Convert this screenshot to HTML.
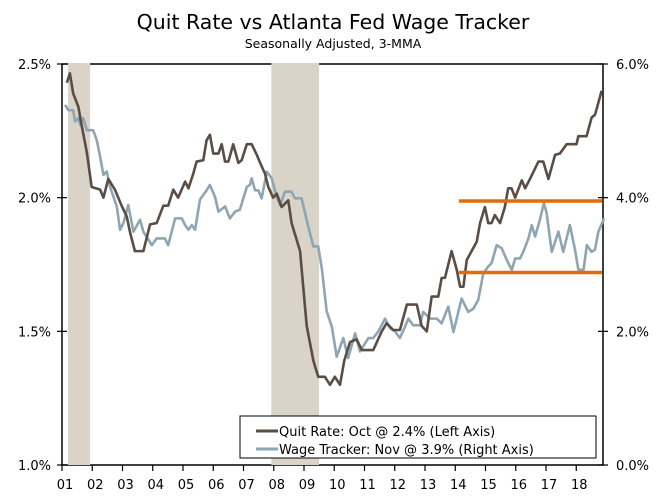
<!DOCTYPE html>
<html><head><meta charset="utf-8"><style>
html,body{margin:0;padding:0;background:#fff;}
svg{display:block;font-family:"DejaVu Sans","Liberation Sans",sans-serif;}
</style></head><body>
<svg id="chart" width="669" height="503" viewBox="0 0 669 503">
<text x="333" y="29" text-anchor="middle" font-size="20.5" fill="#000">Quit Rate vs Atlanta Fed Wage Tracker</text>
<text x="333" y="48" text-anchor="middle" font-size="12.5" fill="#000">Seasonally Adjusted, 3-MMA</text>
<g id="axes"></g>
<g id="rec"></g>
<g id="series"></g>
<g id="legend">
<rect x="240" y="416" width="356" height="42" fill="#fff" stroke="#000" stroke-width="1"/>
<line x1="256" y1="431" x2="278" y2="431" stroke="#5a4d44" stroke-width="3"/>
<text x="279" y="436" font-size="13">Quit Rate: Oct @ 2.4% (Left Axis)</text>
<line x1="256" y1="449" x2="278" y2="449" stroke="#8ea5b3" stroke-width="3"/>
<text x="279" y="454" font-size="13">Wage Tracker: Nov @ 3.9% (Right Axis)</text>
</g>
</svg>
<script>
const xTickLabels=["01","02","03","04","05","06","07","08","09","10","11","12","13","14","15","16","17","18"];
const leftTicks=[1.0,1.5,2.0,2.5];
const rightTicks=[0,2,4,6];
const recessionStarts=[2001.2,2007.92];
const recessionEnds=[2001.93,2009.5];
const quitDates=[2001.16,2001.26,2001.37,2001.54,2001.65,2001.82,2001.98,2002.26,2002.37,2002.53,2002.75,2002.97,2003.14,2003.25,2003.41,2003.69,2003.91,2004.13,2004.35,2004.51,2004.68,2004.84,2005.07,2005.18,2005.34,2005.45,2005.67,2005.78,2005.89,2006.0,2006.17,2006.28,2006.39,2006.5,2006.66,2006.83,2006.94,2007.11,2007.27,2007.44,2007.55,2007.71,2007.82,2007.98,2008.1,2008.26,2008.48,2008.59,2008.87,2009.09,2009.31,2009.47,2009.69,2009.86,2010.02,2010.19,2010.33,2010.52,2010.74,2010.91,2011.29,2011.57,2011.73,2011.95,2012.17,2012.4,2012.73,2012.89,2013.06,2013.22,2013.44,2013.55,2013.66,2013.88,2014.05,2014.16,2014.27,2014.38,2014.54,2014.71,2014.82,2014.98,2015.09,2015.2,2015.31,2015.48,2015.64,2015.75,2015.86,2015.98,2016.2,2016.31,2016.47,2016.75,2016.91,2017.08,2017.3,2017.46,2017.68,2018.01,2018.07,2018.34,2018.51,2018.62,2018.84];
const quitValues=[2.43,2.465,2.39,2.34,2.27,2.17,2.04,2.03,2.0,2.07,2.03,1.97,1.93,1.87,1.80,1.80,1.90,1.905,1.97,1.97,2.03,2.0,2.06,2.035,2.09,2.135,2.14,2.215,2.235,2.165,2.165,2.2,2.135,2.135,2.2,2.13,2.14,2.2,2.2,2.16,2.13,2.09,2.04,2.0,2.015,1.965,1.99,1.905,1.80,1.52,1.39,1.33,1.33,1.30,1.33,1.30,1.39,1.46,1.47,1.43,1.43,1.50,1.53,1.505,1.505,1.60,1.60,1.52,1.50,1.63,1.63,1.70,1.70,1.80,1.73,1.667,1.667,1.767,1.80,1.835,1.905,1.965,1.905,1.905,1.935,1.905,1.965,2.035,2.035,2.0,2.065,2.035,2.07,2.135,2.135,2.07,2.16,2.165,2.2,2.2,2.23,2.23,2.30,2.31,2.40];
const wageDates=[2001.10,2001.21,2001.37,2001.43,2001.54,2001.60,2001.70,2001.82,2002.03,2002.15,2002.26,2002.37,2002.48,2002.59,2002.81,2002.92,2003.03,2003.19,2003.36,2003.58,2003.69,2003.97,2004.13,2004.40,2004.51,2004.74,2004.96,2005.07,2005.18,2005.29,2005.40,2005.56,2005.67,2005.78,2005.89,2006.06,2006.17,2006.39,2006.55,2006.72,2006.88,2007.11,2007.21,2007.27,2007.38,2007.49,2007.60,2007.77,2007.93,2008.10,2008.21,2008.37,2008.59,2008.70,2008.92,2009.14,2009.31,2009.47,2009.59,2009.75,2009.92,2010.08,2010.30,2010.46,2010.69,2010.85,2011.13,2011.29,2011.46,2011.68,2011.84,2012.01,2012.17,2012.34,2012.45,2012.61,2012.83,2012.94,2013.17,2013.39,2013.55,2013.77,2013.94,2014.21,2014.43,2014.60,2014.76,2014.93,2015.09,2015.20,2015.37,2015.54,2015.70,2015.87,2015.98,2016.14,2016.25,2016.42,2016.53,2016.64,2016.80,2016.93,2017.02,2017.19,2017.41,2017.57,2017.79,2017.96,2018.07,2018.24,2018.35,2018.51,2018.62,2018.73,2018.92];
const wageValues=[5.39,5.31,5.31,5.14,5.19,5.09,5.19,5.01,5.01,4.86,4.61,4.34,4.39,4.16,3.87,3.52,3.62,3.89,3.49,3.67,3.49,3.29,3.39,3.39,3.29,3.69,3.69,3.59,3.52,3.59,3.52,3.97,4.04,4.11,4.19,4.01,3.79,3.87,3.69,3.79,3.82,4.16,4.19,4.29,4.11,4.11,3.99,4.39,4.29,4.01,3.89,4.09,4.09,3.99,3.99,3.57,3.27,3.27,2.94,2.3,2.07,1.62,1.90,1.60,1.97,1.70,1.90,1.90,2.0,2.19,2.05,2.0,1.90,2.07,2.19,2.09,2.09,2.29,2.19,2.19,2.12,2.37,1.99,2.49,2.29,2.34,2.47,2.87,2.97,3.02,3.29,3.24,3.07,2.92,3.09,3.09,3.19,3.39,3.59,3.42,3.67,3.92,3.77,3.19,3.49,3.19,3.59,3.22,2.92,2.92,3.29,3.19,3.22,3.49,3.69];
const rangeStart=[2014.12,2014.12];
const rangeEnd=[2018.85,2018.85];
const rangeLevels=[3.95,2.88];

const NS="http://www.w3.org/2000/svg";
const L=62,R=603,T=64,B=465;
function xs(t){return L+(t-2001)*30.25;}
function yl(v){return B-(v-1.0)/1.5*(B-T);}
function yr(v){return B-v/6*(B-T);}
function mk(tag,attrs,parent){const e=document.createElementNS(NS,tag);for(const k in attrs)e.setAttribute(k,attrs[k]);parent.appendChild(e);return e;}
const rec=document.getElementById('rec'),ax=document.getElementById('axes'),se=document.getElementById('series');
for(let i=0;i<recessionStarts.length;i++){
  const r=mk('rect',{x:xs(recessionStarts[i]),y:T-1,width:xs(recessionEnds[i])-xs(recessionStarts[i]),height:B-T+1,fill:'#d9d3c8'},rec);
  
  
}
const frame=mk('path',{d:`M${L},${B}L${L},${T}L${R},${T}L${R},${B}L${L},${B}`,fill:'none',stroke:'#000','stroke-width':1.5},ax);


xTickLabels.forEach((lab,i)=>{
  const x=xs(2001+i);
  const tk=mk('line',{x1:x,y1:B,x2:x,y2:B+6,stroke:'#000','stroke-width':1.2},ax);
  
  
  const t=mk('text',{x:x+3,y:B+24,'text-anchor':'middle','font-size':13},ax);t.textContent=lab;
  
  
});
leftTicks.forEach(v=>{
  const y=yl(v);
  const tk=mk('line',{x1:L-5,y1:y,x2:L+5,y2:y,stroke:'#000','stroke-width':1.2},ax);
  
  
  const t=mk('text',{x:L-11,y:y+5,'text-anchor':'end','font-size':13},ax);t.textContent=v.toFixed(1)+'%';
  
  
});
rightTicks.forEach(v=>{
  const y=yr(v);
  const tk=mk('line',{x1:R-5,y1:y,x2:R+5,y2:y,stroke:'#000','stroke-width':1.2},ax);
  
  
  const t=mk('text',{x:R+13,y:y+5,'text-anchor':'start','font-size':13},ax);t.textContent=v.toFixed(1)+'%';
  
  
});
const wp=mk('polyline',{points:wageDates.map((d,i)=>xs(d)+','+yr(wageValues[i])).join(' '),fill:'none',stroke:'#8ea5b3','stroke-width':2.6,'stroke-linejoin':'round'},se);


const qp=mk('polyline',{points:quitDates.map((d,i)=>xs(d)+','+yl(quitValues[i])).join(' '),fill:'none',stroke:'#5a4d44','stroke-width':2.6,'stroke-linejoin':'round'},se);


rangeLevels.forEach((v,i)=>{
  const l=mk('line',{x1:xs(rangeStart[i]),y1:yr(v),x2:xs(rangeEnd[i]),y2:yr(v),stroke:'#e36c0a','stroke-width':3.5},se);
  
  
});
document.getElementById('chart').appendChild(document.getElementById('legend'));
</script>
</body></html>
